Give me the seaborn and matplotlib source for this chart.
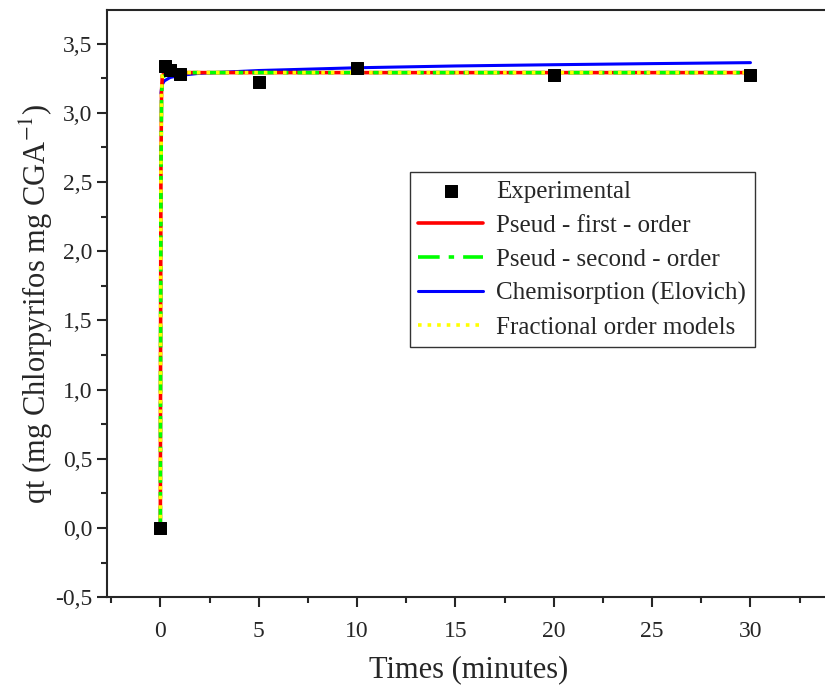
import numpy as np
import pandas as pd
import matplotlib
matplotlib.use("Agg")
import matplotlib.pyplot as plt
import seaborn as sns
from matplotlib.ticker import MultipleLocator, FuncFormatter

# Experimental points
t_exp = [0, 0.25, 0.5, 1, 5, 10, 20, 30]
q_exp = [0.0, 3.34, 3.31, 3.28, 3.22, 3.32, 3.27, 3.27]

# Model curves
t_pfo = [0, 0.01, 0.03, 0.06, 0.1, 0.3, 1, 5, 10, 20, 30]
q_pfo = [0, 1.2, 2.6, 3.15, 3.27, 3.29, 3.29, 3.29, 3.29, 3.29, 3.29]

t_pso = [0, 0.01, 0.03, 0.06, 0.1, 0.3, 1, 5, 10, 20, 30]
q_pso = [0, 1.1, 2.5, 3.1, 3.25, 3.28, 3.29, 3.29, 3.29, 3.29, 3.29]

t_elo = [0.03, 0.08, 0.2, 0.5, 1, 2, 5, 10, 15, 20, 25, 30]
q_elo = [3.14, 3.2, 3.23, 3.255, 3.27, 3.285, 3.305, 3.325, 3.338, 3.347, 3.355, 3.362]

t_frac = [0, 0.01, 0.03, 0.06, 0.1, 0.3, 1, 5, 10, 20, 30]
q_frac = [0, 1.2, 2.6, 3.15, 3.27, 3.29, 3.29, 3.29, 3.29, 3.29, 3.29]

sns.set_style("ticks")
plt.rcParams['font.family'] = ['Liberation Serif', 'DejaVu Serif']
plt.rcParams['mathtext.fontset'] = 'stix'

fig = plt.figure(figsize=(8.25, 6.88), dpi=100)
ax = fig.add_axes([0.130, 0.132, 0.875, 0.854])

sns.lineplot(x=t_pfo, y=q_pfo, ax=ax, color='#ff0000', lw=2.6,
             label='Pseud - first - order', zorder=3)
sns.lineplot(x=t_pso, y=q_pso, ax=ax, color='#00ff00', lw=2.6,
             label='Pseud - second - order', zorder=4)
ax.lines[-1].set_dashes([6, 2.5, 1.5, 2.5])
sns.lineplot(x=t_elo, y=q_elo, ax=ax, color='#0000ff', lw=2.2,
             label='Chemisorption (Elovich)', zorder=2)
sns.lineplot(x=t_frac, y=q_frac, ax=ax, color='#ffff00', lw=2.6,
             label='Fractional order models', zorder=5)
ax.lines[-1].set_linestyle(':')
sns.scatterplot(x=t_exp, y=q_exp, ax=ax, color='black', marker='s', s=80,
                edgecolor='black', label='Experimental', zorder=6)

ax.set_xlim(-2.7, 34.0)
ax.set_ylim(-0.5, 3.745)
ax.xaxis.set_major_locator(MultipleLocator(5))
ax.xaxis.set_minor_locator(MultipleLocator(2.5))
ax.yaxis.set_major_locator(MultipleLocator(0.5))
ax.yaxis.set_minor_locator(MultipleLocator(0.25))
ax.yaxis.set_major_formatter(FuncFormatter(lambda v, p: f"{v:.1f}".replace('.', ',')))
ax.tick_params(which='major', direction='out', length=7, width=1.5, labelsize=17)
ax.tick_params(which='minor', direction='out', length=4, width=1.5)
ax.tick_params(axis='x', pad=10)
for s in ['left', 'bottom', 'top']:
    ax.spines[s].set_linewidth(1.5)
ax.spines['right'].set_visible(False)

ax.set_xlabel('Times (minutes)', fontsize=22, labelpad=10)
ax.set_ylabel('qt (mg Chlorpyrifos mg CGA$^{-1}$)', fontsize=22, labelpad=0)

handles, labels = ax.get_legend_handles_labels()
order = ['Experimental', 'Pseud - first - order', 'Pseud - second - order',
         'Chemisorption (Elovich)', 'Fractional order models']
hmap = dict(zip(labels, handles))
leg = ax.legend([hmap[k] for k in order], order, loc='upper left',
                bbox_to_anchor=(0.419, 0.724), borderaxespad=0, fontsize=18,
                frameon=True, fancybox=False, edgecolor='black',
                handlelength=2.6, labelspacing=0.45, borderpad=0.35,
                handletextpad=0.5)
leg.get_frame().set_linewidth(1.0)

fig.savefig('out.png', dpi=100)
